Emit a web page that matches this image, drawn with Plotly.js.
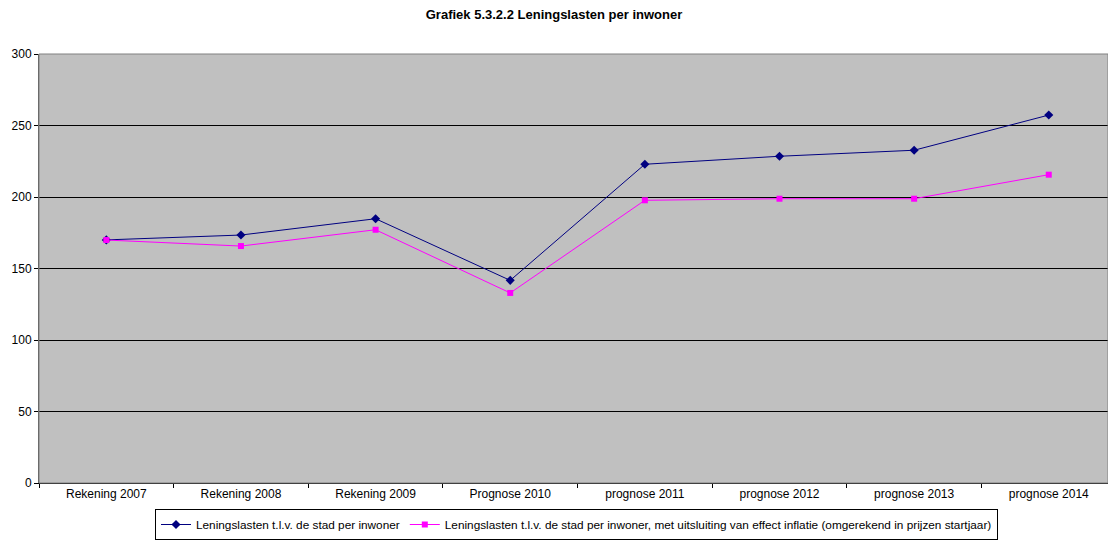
<!DOCTYPE html>
<html>
<head>
<meta charset="utf-8">
<script src="https://cdn.plot.ly/plotly-3.0.1.min.js"></script>
<style>html,body{margin:0;padding:0;background:#fff;}#chart{width:1108px;height:541px;}</style>
</head>
<body>
<div id="chart"></div>
<script>
const categories = ["Rekening 2007","Rekening 2008","Rekening 2009","Prognose 2010","prognose 2011","prognose 2012","prognose 2013","prognose 2014"];
const seriesNames = ["Leningslasten t.l.v. de stad per inwoner","Leningslasten t.l.v. de stad per inwoner, met uitsluiting van effect inflatie (omgerekend in prijzen startjaar)"];
const lastenPerInwoner = [170.0, 173.4, 184.8, 141.7, 222.9, 228.5, 232.7, 257.3];
const lastenExclInflatie = [169.9, 165.7, 177.1, 132.9, 197.7, 198.8, 198.8, 215.6];
const yTicks = [0, 50, 100, 150, 200, 250, 300];

const font = {family: "Liberation Sans, Arial, sans-serif", size: 12, color: "#000"};
const legendFont = {family: font.family, size: 11.8, color: "#000"};
const traces = [
  {x: categories, y: lastenPerInwoner, name: seriesNames[0], type: "scatter", mode: "lines+markers",
   line: {color: "#000080", width: 1}, marker: {symbol: "diamond", size: 7, color: "#000080"}},
  {x: categories, y: lastenExclInflatie, name: seriesNames[1], type: "scatter", mode: "lines+markers",
   line: {color: "#FF00FF", width: 1}, marker: {symbol: "square", size: 6, color: "#FF00FF"}}
];
const layout = {
  width: 1108, height: 541,
  margin: {l: 39, r: 0, t: 54, b: 58},
  paper_bgcolor: "#ffffff",
  plot_bgcolor: "#C0C0C0",
  font: font,
  title: {text: "<b>Grafiek 5.3.2.2 Leningslasten per inwoner</b>", font: {family: font.family, size: 13, color: "#000"},
          x: 0.5, xanchor: "center", y: 1 - 14/541, yanchor: "middle", yref: "container"},
  showlegend: true,
  legend: {orientation: "h", x: (155-39)/1069, xanchor: "left", yref: "container", y: 1 - 509/541, yanchor: "top",
           bordercolor: "#000", borderwidth: 1, bgcolor: "#fff", font: legendFont, itemwidth: 30,
           tracegroupgap: 0},
  xaxis: {type: "category", range: [-0.5, 7.44], showgrid: false, zeroline: false, automargin: false,
          showline: true, linecolor: "#000", linewidth: 1, ticks: "outside", ticklen: 4,
          tickson: "boundaries", tickcolor: "#000", tickfont: font, fixedrange: true},
  yaxis: {range: [0, 300], tickvals: yTicks, showgrid: true, gridcolor: "#000", gridwidth: 1, automargin: false,
          zeroline: false, showline: true, linecolor: "#555", linewidth: 1, ticks: "outside",
          ticklen: 4, tickcolor: "#000", tickfont: font, fixedrange: true},
  shapes: [{type: "rect", xref: "paper", yref: "paper", x0: 0, x1: 1, y0: 0, y1: 1,
            line: {color: "#808080", width: 1}}]
};
Plotly.newPlot("chart", traces, layout, {displayModeBar: false, staticPlot: true});
</script>
</body>
</html>
